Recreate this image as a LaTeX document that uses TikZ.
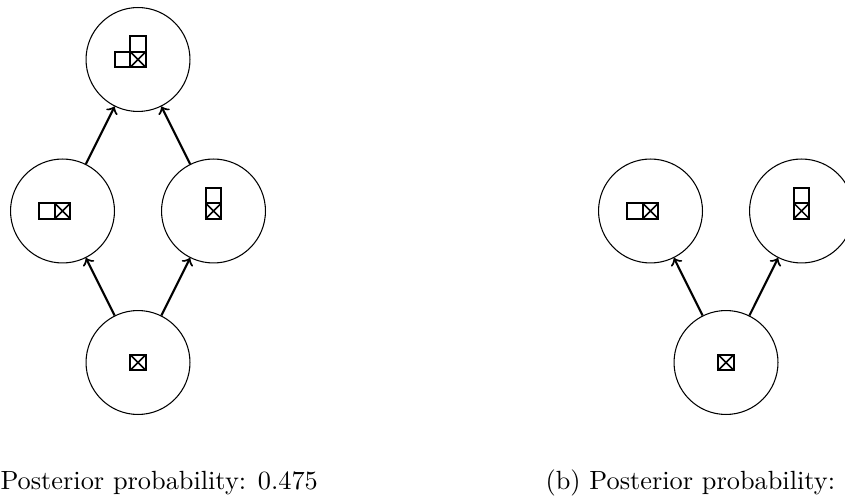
\documentclass[tikz,border=0pt]{standalone}
\usetikzlibrary{arrows}
\begin{document}
\begin{tikzpicture}[
  x=0.38pt, y=-0.38pt,
  state/.style={circle, draw, thin, minimum size=39.5pt, inner sep=0pt},
  link/.style={->, thick},
  caption/.style={anchor=base west, inner sep=0pt},
  cell/.style={line width=0.8pt},
  cross/.style={line width=0.55pt},
  xbox/.pic={
    \draw[cross] (-7.75,-7.75) -- (7.75,7.75) (-7.75,7.75) -- (7.75,-7.75);
    \draw[cell] (-7.75,-7.75) rectangle (7.75,7.75);
  },
  leftbox/.pic={\draw[cell] (-23.25,-7.75) rectangle (-7.75,7.75);},
  upbox/.pic={\draw[cell] (-7.75,-23.25) rectangle (7.75,-7.75);}
]
\useasboundingbox (0,0) rectangle (845,500);
\clip (0,0) rectangle (845,500);

% lattice (a)
\node[state] (a1) at (138,59.5) {};
\node[state] (a2) at (62.5,211) {};
\node[state] (a3) at (213.5,211) {};
\node[state] (a4) at (138,362.5) {};

\pic at (a1) {leftbox};
\pic at (a1) {upbox};
\pic at (a1) {xbox};
\pic at (a2) {leftbox};
\pic at (a2) {xbox};
\pic at (a3) {upbox};
\pic at (a3) {xbox};
\pic at (a4) {xbox};

\draw[link] (a2) -- (a1);
\draw[link] (a3) -- (a1);
\draw[link] (a4) -- (a2);
\draw[link] (a4) -- (a3);

% lattice (b)
\node[state] (b2) at (650.5,211) {};
\node[state] (b3) at (801.5,211) {};
\node[state] (b4) at (726,362.5) {};

\pic at (b2) {leftbox};
\pic at (b2) {xbox};
\pic at (b3) {upbox};
\pic at (b3) {xbox};
\pic at (b4) {xbox};

\draw[link] (b4) -- (b2);
\draw[link] (b4) -- (b3);

% captions
\node[caption] (capa) at (0,489) {Posterior probability: 0.475};
\node[caption] (capb) at (545,489) {(b) Posterior probability:};
\end{tikzpicture}
\end{document}
